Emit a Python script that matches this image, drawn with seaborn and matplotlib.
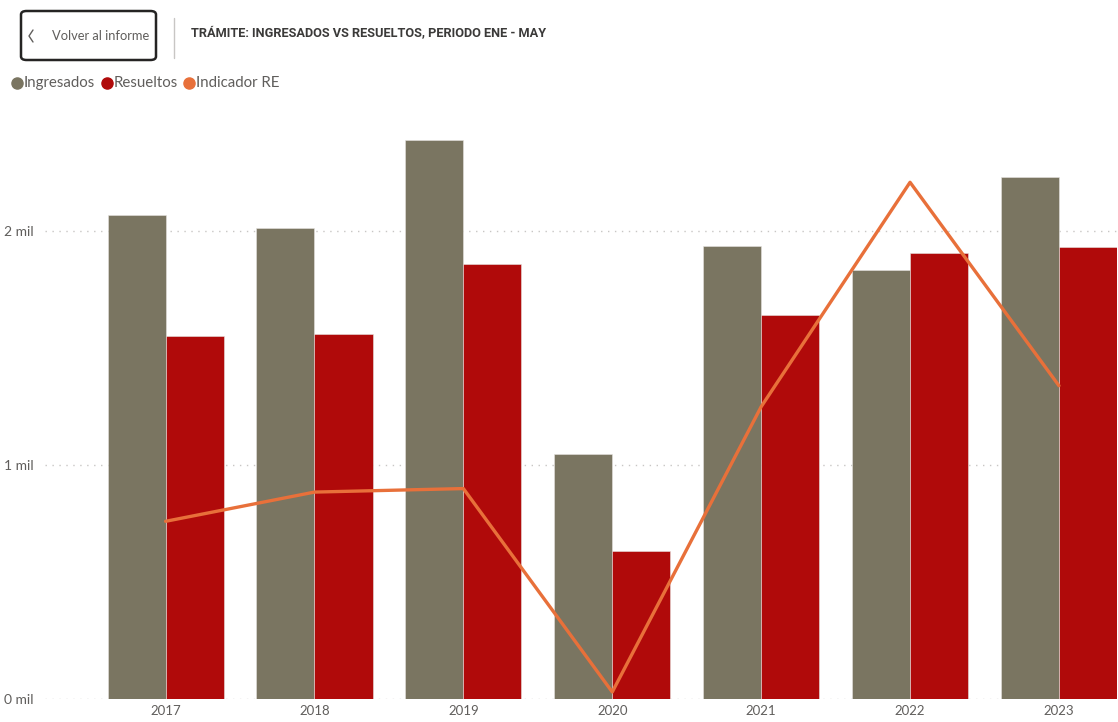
import numpy as np
import pandas as pd
import matplotlib
matplotlib.use("Agg")
import matplotlib.pyplot as plt
from matplotlib.patches import FancyBboxPatch
from matplotlib.lines import Line2D
import seaborn as sns

anios = ["2017", "2018", "2019", "2020", "2021", "2022", "2023"]
ingresados = [2068, 2013, 2389, 1047, 1936, 1833, 2231]
resueltos = [1551, 1560, 1859, 632, 1641, 1906, 1932]
indicador_re = [75.0, 77.5, 77.8, 60.4, 84.8, 104.0, 86.6]
y_ticks = [0, 1000, 2000]
y_tick_labels = ["0 mil", "1 mil", "2 mil"]

c_ing = "#7a7561"
c_res = "#b00a0a"
c_ind = "#e8703a"
c_txt = "#605e5c"

sns.set_theme(style="white")
plt.rcParams["font.family"] = ["Lato", "DejaVu Sans"]

df = pd.DataFrame({
    "Año": anios * 2,
    "Valor": ingresados + resueltos,
    "Serie": ["Ingresados"] * len(anios) + ["Resueltos"] * len(anios),
})

fig = plt.figure(figsize=(11.18, 7.22), dpi=100)
W, H = 1118, 722
left, right, bottom, top = 45, 1117, 699, 125
ax = fig.add_axes([left / W, (H - bottom) / H, (right - left) / W, (bottom - top) / H])

sns.barplot(data=df, x="Año", y="Valor", hue="Serie",
            palette={"Ingresados": c_ing, "Resueltos": c_res},
            width=0.78, gap=0, ax=ax, legend=False, saturation=1,
            edgecolor="#e6e4e0", linewidth=0.4)
ax.set_xlim(-0.81, 6.39)
ax.set_ylim(0, 2453)
ax.set_yticks(y_ticks)
ax.set_yticklabels(y_tick_labels)
ax.set_xlabel("")
ax.set_ylabel("")
for s in ax.spines.values():
    s.set_visible(False)
ax.tick_params(axis="y", length=0, pad=8, labelsize=10, labelcolor=c_txt)
ax.tick_params(axis="x", length=0, pad=4, labelsize=9.5, labelcolor=c_txt)
for yt in y_ticks:
    ax.axhline(yt, color="#c8c6c4", linestyle=(0, (1, 4)), linewidth=1, zorder=0)
ax.set_axisbelow(True)

ax2 = ax.twinx()
sns.lineplot(x=np.arange(len(anios)), y=indicador_re, ax=ax2, color=c_ind,
             linewidth=2.4, legend=False)
ax2.set_ylim(59.8, 108.9)
ax2.set_xlim(-0.81, 6.39)
ax2.set_yticks([])
ax2.set_ylabel("")
for s in ax2.spines.values():
    s.set_visible(False)

# header: button
btn = FancyBboxPatch((21 / W, 1 - 60 / H), 135 / W, 49 / H,
                     boxstyle="round,pad=0,rounding_size=0.005",
                     transform=fig.transFigure, fill=False,
                     edgecolor="#252423", linewidth=1.8)
fig.add_artist(btn)
fig.add_artist(Line2D([33 / W, 29 / W, 33 / W], [1 - 30 / H, 1 - 36 / H, 1 - 42 / H],
                      transform=fig.transFigure, color=c_txt, linewidth=1))
fig.text(52 / W, 1 - 36 / H, "Volver al informe", fontsize=9.3, color=c_txt,
         va="center")
fig.add_artist(Line2D([174 / W, 174 / W], [1 - 18 / H, 1 - 58 / H],
                      transform=fig.transFigure, color="#c8c6c4", linewidth=1))
fig.text(191 / W, 1 - 34 / H, "TRÁMITE: INGRESADOS VS RESUELTOS, PERIODO ENE - MAY",
         fontsize=9.2, color="#3b3a39", fontweight="bold", va="center",
         family=["Roboto", "DejaVu Sans"])

# legend
leg_items = [("Ingresados", c_ing, 17), ("Resueltos", c_res, 107), ("Indicador RE", c_ind, 189)]
for label, col, x in leg_items:
    fig.add_artist(Line2D([x / W], [1 - 83 / H], marker="o", markersize=8,
                          color=col, transform=fig.transFigure, linestyle=""))
    fig.text((x + 7) / W, 1 - 83 / H, label, fontsize=10.8, color=c_txt, va="center")

fig.savefig("out.png", dpi=100)
